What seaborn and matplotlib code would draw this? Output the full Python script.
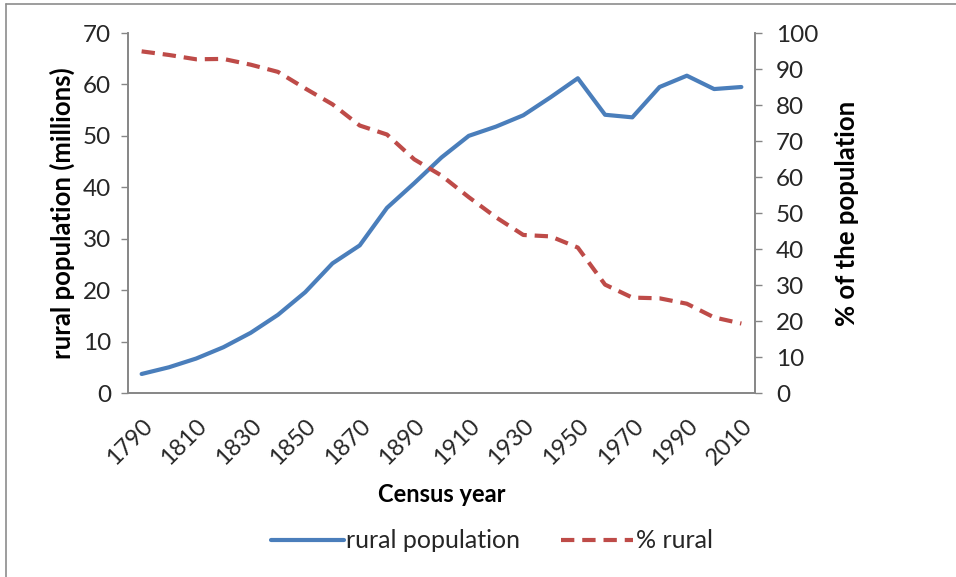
import matplotlib
matplotlib.use("Agg")
import matplotlib.pyplot as plt
from matplotlib.lines import Line2D
import seaborn as sns
import pandas as pd

# US census: rural population and share of population living in rural areas
years = [1790, 1800, 1810, 1820, 1830, 1840, 1850, 1860, 1870, 1880, 1890, 1900,
         1910, 1920, 1930, 1940, 1950, 1960, 1970, 1980, 1990, 2000, 2010]
rural_population = [3.7, 5.0, 6.7, 8.9, 11.7, 15.2, 19.6, 25.2, 28.7, 36.0, 40.8, 45.8,
                    50.0, 51.8, 54.0, 57.5, 61.2, 54.1, 53.6, 59.5, 61.7, 59.1, 59.5]
pct_rural = [94.9, 93.9, 92.7, 92.8, 91.2, 89.2, 84.6, 80.2, 74.3, 71.8, 64.9, 60.4,
             54.4, 48.8, 43.9, 43.5, 40.4, 30.1, 26.5, 26.3, 24.8, 21.0, 19.3]
x_tick_labels = [str(y) for y in years[::2]]
left_ticks = list(range(0, 71, 10))
right_ticks = list(range(0, 101, 10))

BLUE = "#4A7EBB"
RED = "#BE4B48"
GRID_GRAY = "#868686"
TEXT = "#262626"

sns.set_theme(style="white")
plt.rcParams["font.family"] = ["Lato", "DejaVu Sans"]

df = pd.DataFrame({"idx": range(len(years)), "year": years,
                   "rural": rural_population, "pct": pct_rural})

fig = plt.figure(figsize=(9.56, 5.77), dpi=100)
ax = fig.add_axes([128 / 956, 1 - 393 / 577, (755 - 128) / 956, (393 - 33) / 577])
ax2 = ax.twinx()

sns.lineplot(data=df, x="idx", y="rural", ax=ax, color=BLUE, linewidth=3.0,
             solid_capstyle="round", legend=False)
sns.lineplot(data=df, x="idx", y="pct", ax=ax2, color=RED, linewidth=3.0,
             dashes=False, legend=False)
ax2.lines[0].set_dashes([3.2, 1.9])
ax2.lines[0].set_dash_capstyle("butt")

ax.set_xlim(-0.5, len(years) - 0.5)
ax.set_ylim(0, 70)
ax2.set_ylim(0, 100)
ax.set_yticks(left_ticks)
ax2.set_yticks(right_ticks)
ax.set_xticks(range(0, len(years), 2))
ax.set_xticklabels(x_tick_labels, rotation=45, ha="right", va="top",
                   rotation_mode="anchor", fontsize=17, color=TEXT)
ax.tick_params(axis="x", length=0, pad=16)
ax.tick_params(axis="y", length=5, width=1, color=GRID_GRAY, labelsize=17.5,
               labelcolor=TEXT, pad=7, direction="out", left=True)
ax2.tick_params(axis="y", length=5, width=1, color=GRID_GRAY, labelsize=17.5,
                labelcolor=TEXT, pad=10, direction="out", right=True)

for a in (ax, ax2):
    a.spines["top"].set_visible(False)
    for side in ("left", "right", "bottom"):
        a.spines[side].set_color(GRID_GRAY)
        a.spines[side].set_linewidth(1.2)
    a.grid(False)

ax.set_xlabel("Census year", fontsize=17, fontweight="bold", color="#000000", labelpad=10)
ax.set_ylabel("rural population (millions)", fontsize=18.5, fontweight="bold",
              color="#000000", labelpad=6)
ax2.set_ylabel("% of the population", fontsize=18.5, fontweight="bold",
               color="#000000", labelpad=12)

handles = [Line2D([], [], color=BLUE, linewidth=3.0),
           Line2D([], [], color=RED, linewidth=3.0, dashes=[3.2, 1.9])]
fig.legend(handles, ["rural population", "% rural"], loc="center",
           bbox_to_anchor=(492 / 956, 1 - 541 / 577), ncol=2, frameon=False,
           fontsize=18, handlelength=2.9, handletextpad=0.1, columnspacing=1.6,
           labelcolor=TEXT)

# thin frame around the chart area
fig.add_artist(Line2D([6 / 956, 6 / 956], [0, 1 - 4 / 577], color="#8c8c8c",
                      linewidth=1.2, transform=fig.transFigure))
fig.add_artist(Line2D([6 / 956, 1], [1 - 4 / 577, 1 - 4 / 577], color="#8c8c8c",
                      linewidth=1.2, transform=fig.transFigure))

fig.savefig("out.png", dpi=100, facecolor="white")
